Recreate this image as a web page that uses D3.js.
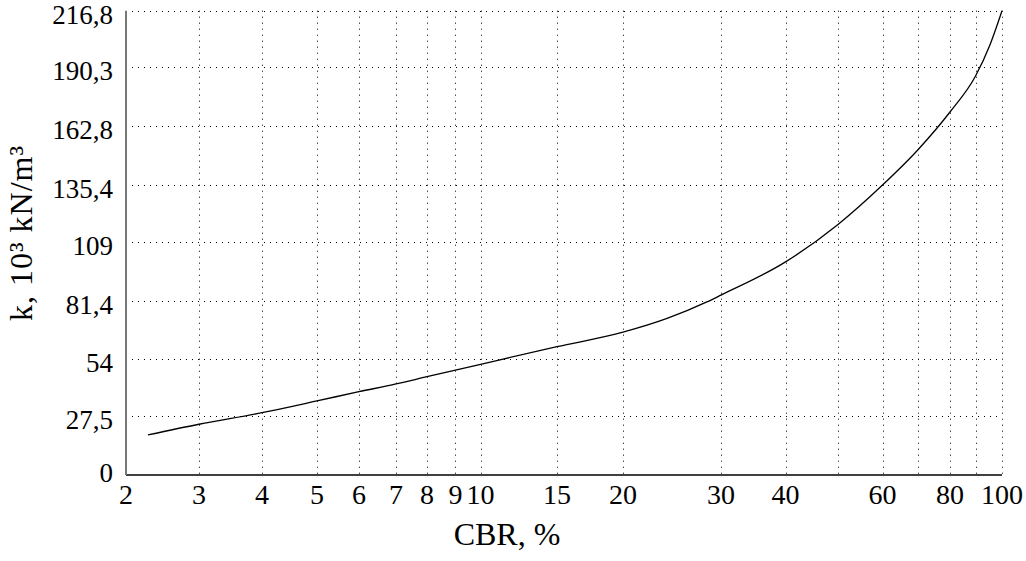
<!DOCTYPE html>
<html>
<head>
<meta charset="utf-8">
<script src="https://cdn.jsdelivr.net/npm/d3@7"></script>
<style>
	body { margin: 0; background: #fff; }
	svg { display: block; font-family: "Liberation Serif", "Times New Roman", serif; }
</style>
</head>
<body>
<script>
// CBR values of the curve and the k values (10^3 kN/m^3)
const cbr = [2.26, 3, 4, 5, 6, 7, 8, 9, 10, 15, 20, 24, 28.3, 30, 40, 50, 60, 70, 80, 90, 95.3, 100];
const kValues = [18.7, 23.7, 29.1, 34.6, 38.9, 42.5, 45.9, 49.0, 51.7, 59.9, 66.7, 73.1, 80.8, 84.0, 99.5, 117.0, 135.4, 151.9, 169.5, 186.3, 200.8, 216.8];

const xTickLabels = [2, 3, 4, 5, 6, 7, 8, 9, 10, 15, 20, 30, 40, 60, 80, 100];
const xGridValues = [2, 3, 4, 5, 6, 7, 8, 9, 10, 15, 20, 30, 40, 50, 60, 70, 80, 90, 100];
// the printed CBR axis is not an exact log axis: where each grid value sits, as a share of the axis length
const xGridShare = [0, 0.0833, 0.1553, 0.2180, 0.2660, 0.3082, 0.3436, 0.3761, 0.4047, 0.4920, 0.5674, 0.6792, 0.7529, 0.8128, 0.8636, 0.9041, 0.9406, 0.9698, 1];
const yTicks = [0, 27.5, 54, 81.4, 109, 135.4, 162.8, 190.3, 216.8];

(() => {
	let width = 1026;
	let height = 561;
	let margin = {left: 126, right: 24, top: 10.7, bottom: 86};
	let plotW = width - margin.left - margin.right;
	let plotH = height - margin.top - margin.bottom;

	let svg = d3.select("body").append("svg")
		.attr("width", width)
		.attr("height", height);

	let x = d3.scaleLog()
		.domain(xGridValues)
		.range(xGridShare.map(s => margin.left + s * plotW));

	let y = d3.scaleLinear()
		.domain([0, 216.8])
		.range([margin.top + plotH, margin.top]);

	let fmt = v => String(v).replace(".", ",");

	// dotted grid
	let grid = svg.append("g")
		.attr("stroke", "#000")
		.attr("stroke-width", 1)
		.attr("stroke-dasharray", "1,5");
	grid.selectAll(".gx")
		.data(xGridValues.slice(1))
		.enter().append("line")
		.attr("x1", d => Math.round(x(d)) + 0.5)
		.attr("x2", d => Math.round(x(d)) + 0.5)
		.attr("y1", y(216.8))
		.attr("y2", y(0));
	grid.selectAll(".gy")
		.data(yTicks.slice(1))
		.enter().append("line")
		.attr("x1", x(2))
		.attr("x2", x(100))
		.attr("y1", d => Math.round(y(d)) + 0.5)
		.attr("y2", d => Math.round(y(d)) + 0.5);

	// axes lines
	svg.append("line")
		.attr("x1", x(2)).attr("x2", x(100))
		.attr("y1", y(0)).attr("y2", y(0))
		.attr("stroke", "#000")
		.attr("stroke-width", 1.5);
	svg.append("line")
		.attr("x1", x(2)).attr("x2", x(2))
		.attr("y1", y(216.8)).attr("y2", y(0))
		.attr("stroke", "#777")
		.attr("stroke-width", 2);

	// tick labels
	svg.append("g").selectAll("text")
		.data(xTickLabels)
		.enter().append("text")
		.attr("x", d => x(d))
		.attr("y", y(0) + 29)
		.attr("text-anchor", "middle")
		.attr("font-size", 28)
		.text(d => d);

	svg.append("g").selectAll("text")
		.data(yTicks)
		.enter().append("text")
		.attr("x", 113)
		.attr("y", d => Math.min(y(d) + 13, y(0) + 7))
		.attr("text-anchor", "end")
		.attr("font-size", 27)
		.text(fmt);

	// axis titles
	svg.append("text")
		.attr("x", 507)
		.attr("y", 545)
		.attr("text-anchor", "middle")
		.attr("font-size", 32)
		.text("CBR, %");

	svg.append("text")
		.attr("transform", "translate(32,233) rotate(-90)")
		.attr("text-anchor", "middle")
		.attr("font-size", 32)
		.attr("letter-spacing", 1)
		.text("k, 10³ kN/m³");

	// the curve
	let points = cbr.map((c, i) => [c, kValues[i]]);
	let line = d3.line()
		.x(d => x(d[0]))
		.y(d => y(d[1]))
		.curve(d3.curveMonotoneX);
	svg.append("path")
		.datum(points)
		.attr("d", line)
		.attr("fill", "none")
		.attr("stroke", "#000")
		.attr("stroke-width", 1.3);
})();
</script>
</body>
</html>
